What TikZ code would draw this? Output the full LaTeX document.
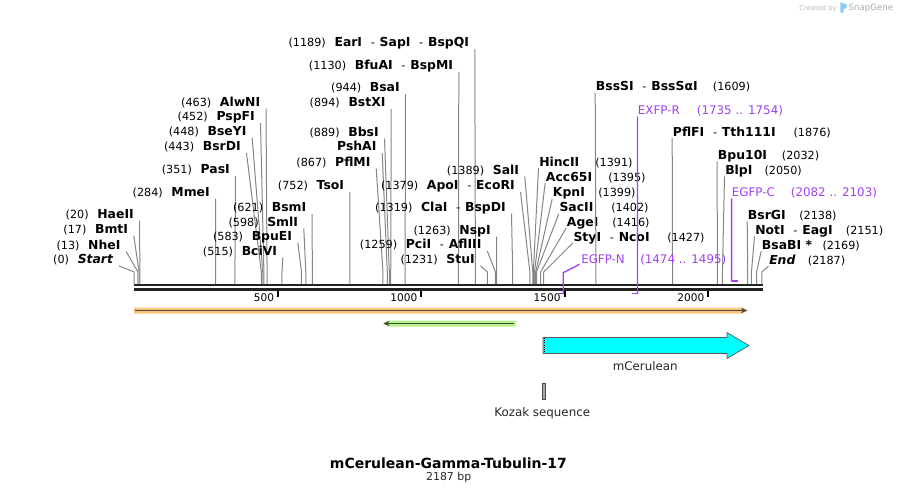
\documentclass[tikz,border=0pt]{standalone}
\usepackage{fontspec}
\setmainfont{DejaVu Sans}
\usetikzlibrary{calc,arrows.meta}
\definecolor{cutgray}{HTML}{858585}
\definecolor{primer}{HTML}{A040F0}
\definecolor{bb}{HTML}{222222}
\definecolor{orf}{HTML}{F8C77E}
\definecolor{orfline}{HTML}{504438}
\definecolor{grn}{HTML}{B4F08C}
\definecolor{grnline}{HTML}{3A4E32}
\definecolor{cyanF}{HTML}{00FFFF}
\definecolor{kozak}{HTML}{A0A8B0}
\definecolor{logoblue}{HTML}{8CCBF0}

\newcommand\nm[1]{{\fontsize{9.3pt}{10pt}\selectfont\bfseries #1}}
\newcommand\nmi[1]{{\fontsize{9.3pt}{10pt}\selectfont\bfseries\itshape #1}}
\newcommand\gp{\hspace{6.5pt}}
\newcommand\sepd{\hspace{6.5pt}-\hspace{3.7pt}}
\newcommand\bpx[1]{134.2+0.28695*#1}

\tikzset{
  lab/.style={inner sep=0pt, font=\fontsize{8.4pt}{9.5pt}\selectfont, text=black},
  plab/.style={inner sep=0pt, font=\fontsize{8.9pt}{10pt}\selectfont, text=primer},
  cutline/.style={draw=cutgray, line width=0.75pt},
  pline/.style={draw=primer, line width=1pt},
  pbar/.style={draw=primer, line width=1.4pt},
  tickmk/.style={draw=black, line width=1.3pt},
  ticklab/.style={inner sep=0pt, font=\fontsize{7.9pt}{9pt}\selectfont, text=black},
  flab/.style={inner sep=0pt, font=\fontsize{8.9pt}{10pt}\selectfont, text=black!85},
  bbline/.style={draw=bb, line width=1.75pt}
}

% left-side enzyme label: id, end x, baseline y, text, bp
\newcommand\siteL[5]{%
  \node[lab,anchor=base east] (L#1) at (#2,#3) {#4};
  \coordinate (S#1) at ({\bpx{#5}},284);
  \draw[cutline] ($(L#1.base east)+(5.5,2.5)$) -- ($(S#1)+(0,-12)$) -- (S#1);}
% right-side enzyme label: id, start x, baseline y, name text, number x, bp
\newcommand\siteR[6]{%
  \node[lab,anchor=base west] (R#1) at (#2,#3) {#4};
  \node[lab,anchor=base west] (N#1) at (#5,#3) {(#6)};
  \coordinate (S#1) at ({\bpx{#6}},284);
  \draw[cutline] ($(R#1.base west)+(-0.5,2)$) -- ($(S#1)+(0,-12)$) -- (S#1);}
% tick: bp, label offset
\newcommand\tickat[2]{%
  \coordinate (k#1) at ({\bpx{#1}},290.7);
  \draw[tickmk] (k#1) -- ($(k#1)+(0,6.6)$);
  \node[ticklab,anchor=base east] (t#1) at ($(k#1)+(#2,10.3)$) {#1};}

\begin{document}
\begin{tikzpicture}[x=0.75pt,y=-0.75pt]
\useasboundingbox (0,0) rectangle (897,494);

% backbone
\coordinate (bbL) at (134,285.2);
\coordinate (bbR) at (762.5,285.2);
\draw[bbline] (bbL) -- (bbR);
\draw[bbline] ($(bbL)+(0,4.3)$) -- ($(bbR)+(0,4.3)$);

% ticks
\tickat{500}{-3.4}
\tickat{1000}{-3.6}
\tickat{1500}{-3.9}
\tickat{2000}{-3.6}

% left-side sites
\siteL{start}{113.3}{263.3}{(0)\gp\nmi{Start}}{0}
\siteL{nhe}{120.7}{249}{(13)\gp\nm{NheI}}{13}
\siteL{bmt}{128.3}{233.3}{(17)\gp\nm{BmtI}}{17}
\siteL{hae}{134}{218.3}{(20)\gp\nm{HaeII}}{20}
\siteL{mme}{210}{196}{(284)\gp\nm{MmeI}}{284}
\siteL{pas}{230}{173.7}{(351)\gp\nm{PasI}}{351}
\siteL{bsrd}{241}{150.7}{(443)\gp\nm{BsrDI}}{443}
\siteL{bsey}{246.7}{135.3}{(448)\gp\nm{BseYI}}{448}
\siteL{pspf}{255}{120.7}{(452)\gp\nm{PspFI}}{452}
\siteL{alwn}{260.5}{106}{(463)\gp\nm{AlwNI}}{463}
\siteL{bciv}{277.3}{255}{(515)\gp\nm{BciVI}}{515}
\siteL{bpue}{292.3}{240}{(583)\gp\nm{BpuEI}}{583}
\siteL{sml}{298.3}{226}{(598)\gp\nm{SmlI}}{598}
\siteL{bsm}{306.5}{211.7}{(621)\gp\nm{BsmI}}{621}
\siteL{tso}{344.3}{189.3}{(752)\gp\nm{TsoI}}{752}
\siteL{pflm}{370.7}{166}{(867)\gp\nm{PflMI}}{867}
\siteL{psha}{376.7}{150.7}{\nm{PshAI}}{882}
\siteL{bbs}{379}{136}{(889)\gp\nm{BbsI}}{889}
\siteL{bstx}{385.7}{106.7}{(894)\gp\nm{BstXI}}{894}
\siteL{bsa}{400}{91.7}{(944)\gp\nm{BsaI}}{944}
\siteL{bfua}{453.3}{69.3}{(1130)\gp\nm{BfuAI}\sepd\nm{BspMI}}{1130}
\siteL{ear}{469.3}{46.7}{(1189)\gp\nm{EarI}\sepd\nm{SapI}\sepd\nm{BspQI}}{1189}
\siteL{stu}{475}{263.3}{(1231)\gp\nm{StuI}}{1231}
\siteL{pci}{481.7}{248.3}{(1259)\gp\nm{PciI}\sepd\nm{AflIII}}{1259}
\siteL{nsp}{491}{234}{(1263)\gp\nm{NspI}}{1263}
\siteL{cla}{506}{211}{(1319)\gp\nm{ClaI}\sepd\nm{BspDI}}{1319}
\siteL{apo}{515}{189.3}{(1379)\gp\nm{ApoI}\sepd\nm{EcoRI}}{1379}
\siteL{sal}{519.3}{174}{(1389)\gp\nm{SalI}}{1389}

% right-side sites
\siteR{hinc}{539}{166}{\nm{HincII}}{595}{1391}
\siteR{acc}{545.7}{181}{\nm{Acc65I}}{608}{1395}
\siteR{kpn}{552.7}{196.7}{\nm{KpnI}}{598}{1399}
\siteR{sac}{559.3}{211.7}{\nm{SacII}}{611}{1402}
\siteR{age}{566.7}{226}{\nm{AgeI}}{612}{1416}
\siteR{sty}{573.3}{241}{\nm{StyI}\sepd\nm{NcoI}}{667}{1427}
\siteR{bsss}{595.7}{90.7}{\nm{BssSI}\sepd\nm{BssSαI}}{712.7}{1609}
\siteR{pflf}{672.7}{136}{\nm{PflFI}\sepd\nm{Tth111I}}{793.3}{1876}
\siteR{bpu}{717.7}{159.3}{\nm{Bpu10I}}{781.7}{2032}
\siteR{blp}{725}{174.3}{\nm{BlpI}}{764.3}{2050}
\siteR{bsrg}{747.7}{219.3}{\nm{BsrGI}}{799}{2138}
\siteR{not}{755}{234.3}{\nm{NotI}\sepd\nm{EagI}}{845.7}{2151}
\siteR{bsab}{761.7}{249}{\nm{BsaBI *}}{822.3}{2169}
\siteR{end}{769}{264.3}{\nmi{End}}{807.7}{2187}

% primers
\node[plab,anchor=base west] (pN) at (581,263.3) {EGFP-N};
\node[plab,anchor=base west] (pNr) at (640,263.3) {(1474 .. 1495)};
\coordinate (pNa) at ({\bpx{1474}},293.5);
\coordinate (pNb) at ({\bpx{1495}},293.5);
\draw[pline] ($(pN.base west)+(-1.5,1)$) -- ($(pNb)+(0,-20.8)$) -- ($(pNb)+(0,0.7)$);
\draw[pbar] (pNa) -- (pNb);

\node[plab,anchor=base west] (pR) at (637.7,114.3) {EXFP-R};
\node[plab,anchor=base west] (pRr) at (696.7,114.3) {(1735 .. 1754)};
\coordinate (pRa) at ({\bpx{1735}},293.5);
\coordinate (pRb) at ({\bpx{1754}},293.5);
\draw[pline] ($(pR.base west)+(-0.2,2.4)$) -- ($(pRb)+(0,0.7)$);
\draw[pbar] (pRa) -- (pRb);

\node[plab,anchor=base west] (pC) at (731.7,196.7) {EGFP-C};
\node[plab,anchor=base west] (pCr) at (790.7,196.7) {(2082 .. 2103)};
\coordinate (pCa) at ({\bpx{2082}},281);
\coordinate (pCb) at ({\bpx{2103}},281);
\draw[pline] ($(pC.base west)+(-0.1,1.6)$) -- ($(pCa)+(0,0.7)$);
\draw[pbar] (pCa) -- (pCb);

% ORF (orange)
\fill[orf] (134,307.5) -- (742,307.5) -- (748.5,310.5) -- (742,313.5) -- (134,313.5) -- cycle;
\draw[orfline, line width=1.1pt, -{Stealth[length=4.5pt,width=4pt]}] (135,310.5) -- (747,310.5);

% ORF (green, reverse)
\fill[grn] (382.5,323.5) -- (389,320.5) -- (515.5,320.5) -- (515.5,326.5) -- (389,326.5) -- cycle;
\draw[grnline, line width=1.1pt, -{Stealth[length=4.5pt,width=4pt]}] (514,323.5) -- (383.5,323.5);

% mCerulean
\filldraw[fill=cyanF, draw=black!65, line width=0.5pt]
  (543,337.5) -- (727,337.5) -- (727,332.5) -- (749,345.5) -- (727,358.5) -- (727,353.5) -- (543,353.5) -- cycle;
\draw[black, densely dotted, line width=0.7pt] (544.3,337.8) -- (544.3,353.2);
\node[flab,anchor=base] (mcer) at (645.3,370.7) {mCerulean};

% Kozak sequence
\filldraw[fill=kozak, draw=black!70, line width=0.5pt] (542.3,383.3) rectangle (545.7,399.3);
\node[flab,anchor=base] (koz) at (542.2,416.3) {Kozak sequence};

% title
\node[inner sep=0pt, anchor=base, font=\fontsize{10.5pt}{12pt}\selectfont\bfseries] (ttl) at (448.4,468.3) {mCerulean-Gamma-Tubulin-17};
\node[inner sep=0pt, anchor=base, font=\fontsize{8.2pt}{9.5pt}\selectfont, text=black!85] (len) at (448.7,480.3) {2187 bp};

% Created by SnapGene
\node[inner sep=0pt, anchor=base east, font=\fontsize{5.1pt}{6pt}\selectfont, text=gray!55] (cb) at (837,10) {Created by};
\fill[logoblue] (840.3,2.3) -- (846.5,4.3) -- (846.5,8) -- (843.6,9) -- (843.6,12.7) -- (840.3,12.7) -- cycle;
\node[inner sep=0pt, anchor=base west, font=\fontsize{6.5pt}{7.5pt}\selectfont, text=gray!65] (sg) at (848.3,10.3) {SnapGene};
\end{tikzpicture}
\end{document}
